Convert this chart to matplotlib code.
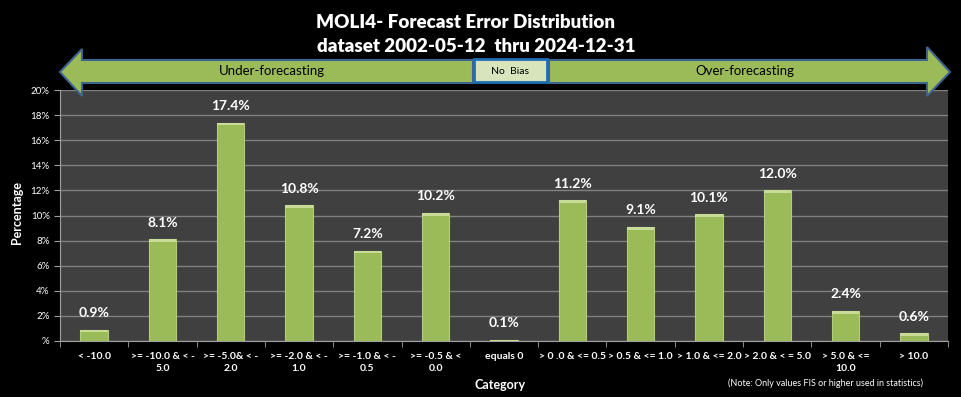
import matplotlib.pyplot as plt
from matplotlib.patches import Polygon, Rectangle
import numpy as np

# dati
categories = ["< -10.0", ">= -10.0 & < -\n5.0", ">= -5.0& < -\n2.0", ">= -2.0 & < -\n1.0",
              ">= -1.0 & < -\n0.5", ">= -0.5 & <\n0.0", "equals 0", "> 0 .0 & <= 0.5",
              "> 0.5 & <= 1.0", "> 1.0 & <= 2.0", "> 2.0 & < = 5.0", "> 5.0 & <=\n10.0", "> 10.0"]
values = [0.9, 8.1, 17.4, 10.8, 7.2, 10.2, 0.1, 11.2, 9.1, 10.1, 12.0, 2.4, 0.6]
ytick_vals = [0, 2, 4, 6, 8, 10, 12, 14, 16, 18, 20]
ytick_labels = ["%"] + [f"{v}%" for v in ytick_vals[1:]]

W, H = 961, 397
plt.rcParams['font.family'] = ['Lato', 'DejaVu Sans']
fig = plt.figure(figsize=(W / 100, H / 100), dpi=100, facecolor='black')

def fx(px):
    return px / W

def fy(py):
    return 1 - py / H

ax = fig.add_axes([fx(60), fy(341), fx(948) - fx(60), fy(90) - fy(341)])
ax.set_facecolor('#404040')

x = np.arange(len(categories))
colors = ['#9bbb59'] * len(values)
colors[categories.index("equals 0")] = '#c3d2a2'
ax.bar(x, values, width=0.4, color=colors, edgecolor='#b3cd78', linewidth=0.8, zorder=3)
# piccolo riflesso in cima alle barre
top = [min(0.22, v) for v in values]
ax.bar(x, top, bottom=np.array(values) - np.array(top), width=0.4,
       color='#c8dc98', linewidth=0, zorder=4)

for xi, v in zip(x, values):
    ax.text(xi, v + 0.85, f"{v:.1f}%", ha='center', va='bottom', color='white',
            fontsize=10, fontweight='bold', zorder=5)

ax.set_xlim(-0.5, len(categories) - 0.5)
ax.set_ylim(0, 20)
ax.set_yticks(ytick_vals)
ax.set_yticklabels(ytick_labels)
ax.yaxis.grid(True, color='#808080', linewidth=1, zorder=0)
ax.set_axisbelow(True)

ax.set_xticks(x)
ax.set_xticklabels(categories, color='white', fontsize=7.5, fontweight='bold', linespacing=1.45)
ax.set_xticks(np.arange(len(categories) + 1) - 0.5, minor=True)
ax.tick_params(axis='x', which='major', length=0, pad=8)
ax.tick_params(axis='x', which='minor', length=4, color='#a0a0a0', direction='out')
ax.tick_params(axis='y', colors='white', labelsize=7, length=4, direction='out')
ax.tick_params(axis='y', color='#a0a0a0')
for side in ['top', 'right']:
    ax.spines[side].set_visible(False)
for side in ['left', 'bottom']:
    ax.spines[side].set_color('#a0a0a0')

fig.text(fx(17), fy(213), "Percentage", color='white', fontsize=9, fontweight='bold',
         rotation=90, ha='center', va='center')
fig.text(fx(500), fy(385), "Category", color='white', fontsize=9, fontweight='bold',
         ha='center', va='center')
fig.text(fx(826), fy(383), "(Note: Only values FIS or higher used in statistics)", color='white',
         fontsize=6.5, ha='center', va='center')

# titolo
fig.text(fx(466), fy(22), "MOLI4- Forecast Error Distribution", color='white', fontsize=13.5,
         fontweight='heavy', ha='center', va='center')
fig.text(fx(476), fy(47), "dataset 2002-05-12  thru 2024-12-31", color='white', fontsize=13.5,
         fontweight='heavy', ha='center', va='center')

# frecce
left_arrow = [(60, 72), (82, 49), (82, 60), (473, 60), (473, 83), (82, 83), (82, 96)]
right_arrow = [(549, 60), (927, 60), (927, 47), (950, 72), (927, 96), (927, 83), (549, 83)]
for pts in (left_arrow, right_arrow):
    fig.patches.append(Polygon([(fx(a), fy(b)) for a, b in pts], closed=True,
                               transform=fig.transFigure, facecolor='#9bbb59',
                               edgecolor='#3f6490', linewidth=1.5, zorder=5))
fig.patches.append(Rectangle((fx(474), fy(82)), fx(547) - fx(474), fy(59) - fy(82),
                             transform=fig.transFigure, facecolor='#d7e4bc',
                             edgecolor='#1f6fb5', linewidth=2, zorder=5))
fig.text(fx(272), fy(71), "Under-forecasting", color='black', fontsize=9.5, ha='center',
         va='center', zorder=6)
fig.text(fx(510), fy(71), "No  Bias", color='black', fontsize=7.5, ha='center',
         va='center', zorder=6)
fig.text(fx(745), fy(71), "Over-forecasting", color='black', fontsize=9.5, ha='center',
         va='center', zorder=6)

fig.savefig("out.png", dpi=100, facecolor='black')
